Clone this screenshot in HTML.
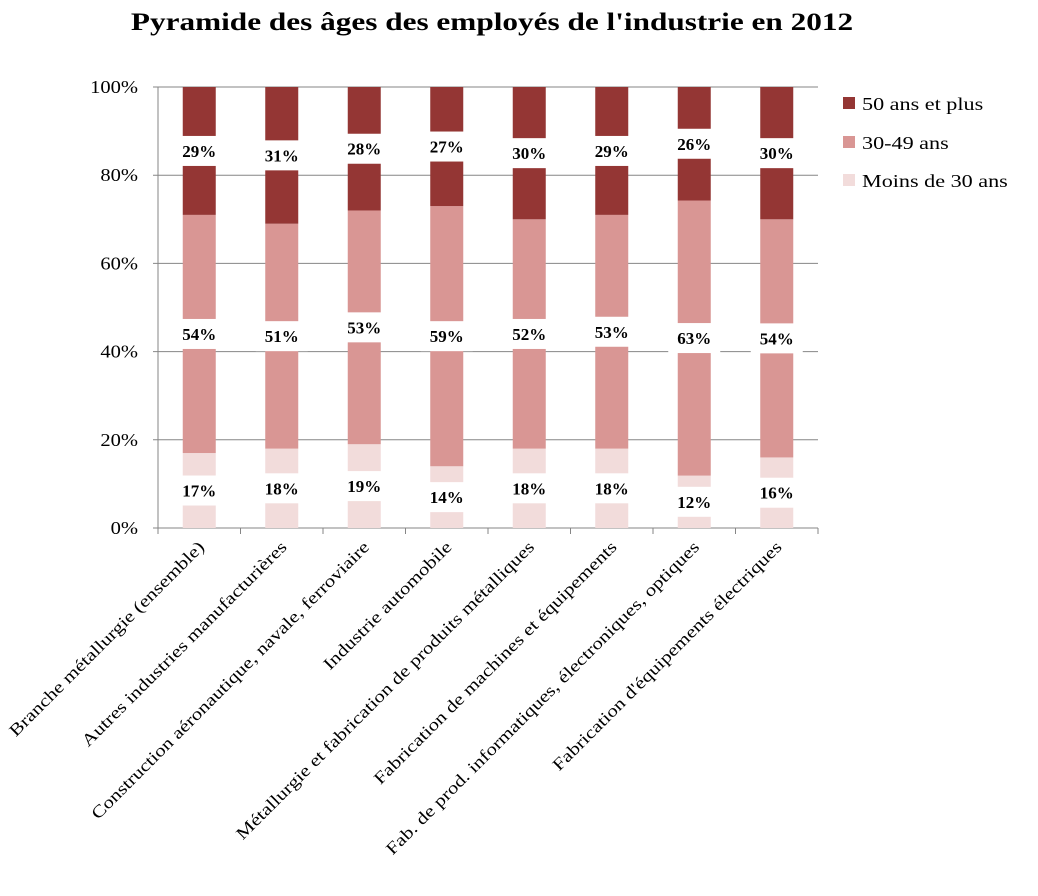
<!DOCTYPE html>
<html><head><meta charset="utf-8"><style>
body{margin:0;background:#fff;}
svg text{font-family:"Liberation Serif",serif;}
</style></head><body>
<svg width="1038" height="891" xmlns="http://www.w3.org/2000/svg">
<rect width="1038" height="891" fill="#fff"/>
<text class="wide" data-f="1.25" x="492" y="30" text-anchor="middle" font-size="25" font-weight="bold">Pyramide des âges des employés de l'industrie en 2012</text>
<g id="grid"></g><g id="bars"></g><g id="labels"></g><g id="axes"></g>
<g>
<rect x="843" y="97" width="12" height="12" fill="#943634"/>
<text class="wide" x="862" y="110" font-size="18">50 ans et plus</text>
<rect x="843" y="136" width="12" height="12" fill="#D99694"/>
<text class="wide" x="862" y="149" font-size="18">30-49 ans</text>
<rect x="843" y="174" width="12" height="12" fill="#F2DCDB"/>
<text class="wide" x="862" y="187" font-size="18">Moins de 30 ans</text>
</g>
</svg>
<script>
const categories=["Branche métallurgie (ensemble)","Autres industries manufacturières","Construction aéronautique, navale, ferroviaire","Industrie automobile","Métallurgie et fabrication de produits métalliques","Fabrication de machines et équipements","Fab. de prod. informatiques, électroniques, optiques","Fabrication d'équipements électriques"];
const under30=[17,18,19,14,18,18,12,16];
const mid=[54,51,53,59,52,53,63,54];
const over50=[29,31,28,27,30,29,26,30];
const yTicks=[0,20,40,60,80,100];
const NS="http://www.w3.org/2000/svg";
const X0=158,X1=818,Y0=528,Y1=87;
const step=(X1-X0)/categories.length;
const y=v=>Y0-(v/100)*(Y0-Y1);
const xc=i=>X0+step*(i+0.5);
function mk(tag,attrs,parent,txt){const e=document.createElementNS(NS,tag);for(const k in attrs)e.setAttribute(k,attrs[k]);if(txt!==undefined)e.textContent=txt;document.getElementById(parent).appendChild(e);return e;}
yTicks.forEach(t=>{
 const l=mk('line',{x1:X0-5,x2:X1,y1:y(t),y2:y(t),stroke:'#868686','stroke-width':1},'grid');
 
 
 const tx=mk('text',{x:X0-20,y:y(t)+6,'text-anchor':'end','font-size':18,class:'wide','data-f':'1.14'},'axes',t+'%');
 
 
});
const ax=mk('line',{x1:X0,x2:X0,y1:Y1,y2:Y0,stroke:'#868686'},'axes');


for(let i=0;i<=categories.length;i++){
 const t=mk('line',{x1:X0+step*i,x2:X0+step*i,y1:Y0,y2:Y0+6,stroke:'#868686'},'axes');
 
 
}
const series=[[under30,'#F2DCDB','under30'],[mid,'#D99694','30-49'],[over50,'#943634','50plus']];
const bw=33;
categories.forEach((c,i)=>{
 const tot=under30[i]+mid[i]+over50[i];
 let acc=0;
 series.forEach(([arr,col,nm])=>{
  const v=arr[i]*100/tot;
  const r=mk('rect',{x:xc(i)-bw/2,y:y(acc+v),width:bw,height:y(acc)-y(acc+v),fill:col},'bars');
  
  
  const cy=y(acc+v/2);
  const b=mk('rect',{x:xc(i)-26,y:cy-15,width:52,height:30,fill:'#fff'},'labels');
  
  
  const t=mk('text',{x:xc(i),y:cy+6,'text-anchor':'middle','font-size':17,'font-weight':'bold'},'labels',arr[i]+'%');
  
  
  acc+=v;
 });
 const xl=mk('text',{x:0,y:0,'text-anchor':'end','font-size':17,transform:`translate(${xc(i)+6},${Y0+20}) rotate(-45)`},'axes',c);
 xl.setAttribute('class','wide');
 
 
});
document.querySelectorAll('text.wide').forEach(t=>{
 const L=t.getComputedTextLength();
 const f=parseFloat(t.getAttribute('data-f')||'1.23');
 t.setAttribute('textLength',(L*f).toFixed(1));
 t.setAttribute('lengthAdjust','spacingAndGlyphs');
});
</script>
</body></html>
